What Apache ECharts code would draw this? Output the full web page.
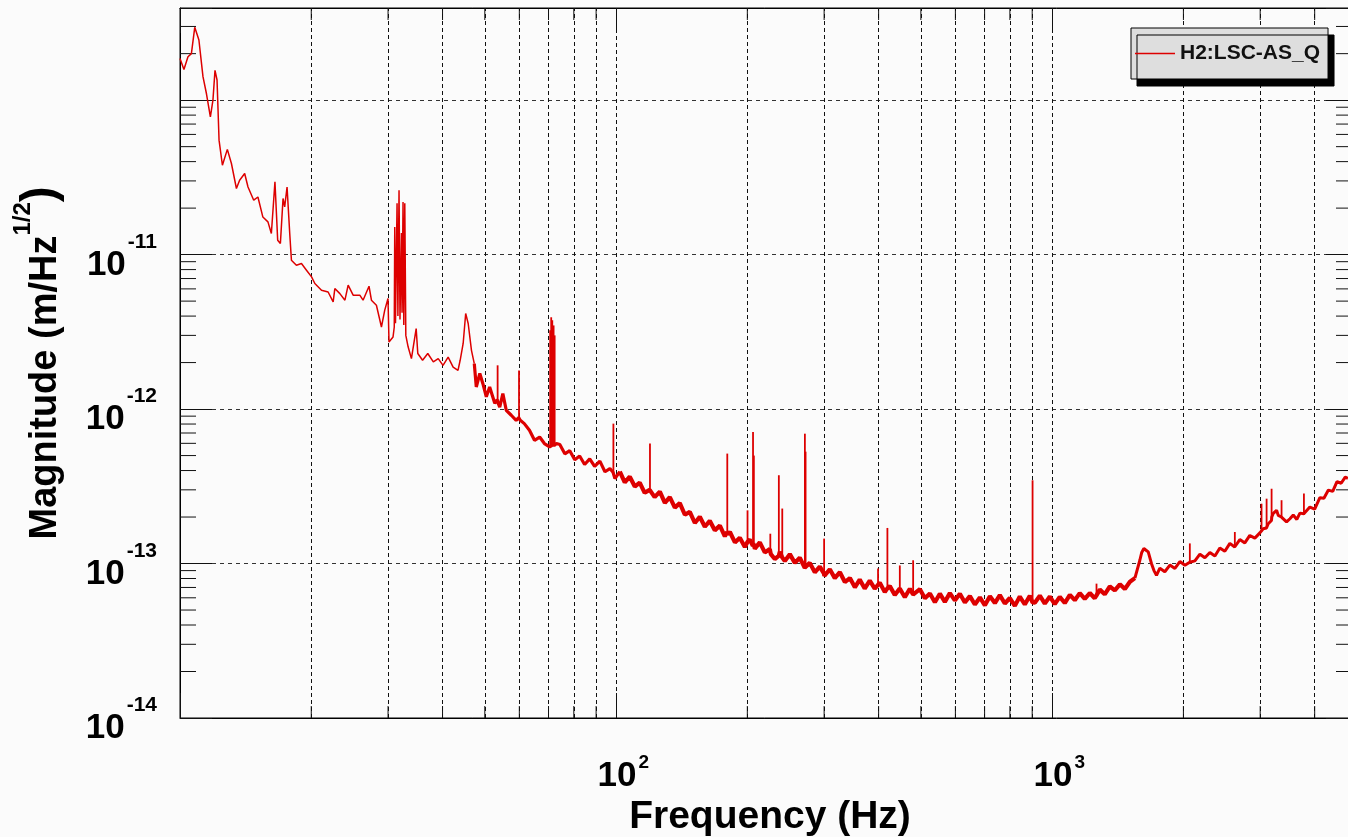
<!DOCTYPE html>
<html>
<head>
<meta charset="utf-8">
<title>H2:LSC-AS_Q amplitude spectrum</title>
<script src="https://cdn.jsdelivr.net/npm/echarts@6.0.0/dist/echarts.min.js"></script>
<style>
  html, body { margin: 0; padding: 0; background: #fbfbfb; }
  #chart { width: 1348px; height: 837px; }
</style>
</head>
<body>
<div id="chart"></div>
<script>
// broadband trace: frequency (Hz) and amplitude spectral density (m/sqrt(Hz))
const freqHz = [
  10.0, 10.21, 10.43, 10.62, 10.81, 11.05, 11.29, 11.5, 11.74, 11.9, 12.03, 12.16, 12.29, 12.51, 12.84,
  13.12, 13.47, 13.7, 14.07, 14.32, 14.76, 15.09, 15.49, 15.91, 16.2, 16.51, 16.75, 16.99, 17.23, 17.38,
  17.6, 17.85, 18.01, 18.49, 18.99, 19.5, 20.03, 20.38, 21.11, 21.86, 22.45, 22.65, 23.26, 23.89, 24.3,
  24.95, 25.84, 26.29, 27.13, 27.48, 28.21, 28.97, 29.48, 29.99, 30.15, 30.8, 31.0, 31.08, 31.2, 31.46,
  31.6, 31.79, 31.95, 32.2, 32.3, 32.47, 32.6, 32.77, 32.95, 33.35, 33.94, 34.8, 35.1, 36.0, 37.0,
  38.1, 39.1, 40.1, 41.2, 42.3, 43.4, 43.9, 44.6, 45.2, 45.8, 46.6, 47.3, 47.8, 48.7, 49.5,
  50.4, 51.3, 52.7, 53.4, 53.6, 54.1, 55.0, 56.0, 57.5, 59.0, 59.8, 60.0, 60.3, 61.6, 63.3,
  65.0, 66.8, 68.5, 70.4, 70.8, 71.2, 71.6, 72.1, 72.5, 73.0, 74.3, 76.3, 78.3, 80.4, 82.5,
  84.7, 87.0, 89.3, 91.8, 94.3, 96.8, 98.4, 98.8, 99.4, 102.0, 104.7, 107.5, 110.4, 113.3, 116.3,
  119.4, 119.8, 122.6, 126.0, 129.4, 132.8, 136.4, 140.0, 143.8, 147.6, 151.6, 155.6, 159.8, 164.0, 168.4,
  173.0, 177.6, 179.8, 180.0, 182.4, 187.3, 192.2, 197.4, 200.1, 200.4, 202.6, 205.9, 206.4, 207.3, 208.1,
  213.6, 219.3, 225.2, 226.4, 231.2, 236.0, 236.5, 237.4, 240.3, 240.8, 243.8, 250.3, 257.0, 263.8, 270.8,
  271.3, 272.3, 278.1, 285.6, 293.2, 299.8, 300.3, 301.1, 309.1, 317.4, 326.0, 334.7, 343.7, 352.9, 362.0,
  371.7, 381.7, 391.9, 402.5, 413.3, 418.8, 419.3, 424.4, 435.7, 447.2, 447.7, 459.4, 471.7, 479.8, 480.3,
  484.3, 497.4, 510.7, 524.4, 538.4, 552.7, 567.5, 582.7, 598.3, 614.3, 630.8, 647.7, 665.0, 682.8, 701.1,
  719.9, 739.1, 758.6, 778.9, 799.8, 821.2, 843, 865.6, 888.8, 901.5, 902.2, 912.6, 937, 962, 988,
  1014, 1041, 1069, 1098, 1127, 1157, 1188, 1220, 1252, 1263, 1266, 1286, 1320, 1356, 1392,
  1430, 1468, 1508, 1548, 1589, 1605, 1623, 1642, 1661, 1690, 1712, 1735, 1766, 1813, 1862,
  1912, 1963, 2016, 2068, 2071, 2125, 2182, 2240, 2300, 2362, 2424, 2489, 2556, 2622, 2627,
  2694, 2766, 2840, 2916, 2995, 3019, 3024, 3048, 3101, 3106, 3130, 3184, 3189, 3214, 3271,
  3300, 3356, 3361, 3386, 3448, 3510, 3572, 3640, 3700, 3777, 3782, 3800, 3900, 4000, 4111,
  4200, 4300, 4400, 4500, 4600, 4700, 4767
];
const asqMag = [
  1.86e-10, 1.58e-10, 1.91e-10, 2.00e-10, 2.96e-10, 2.45e-10, 1.42e-10, 1.10e-10, 7.80e-11, 1.00e-10, 1.56e-10, 1.35e-10, 5.51e-11, 3.79e-11, 4.80e-11,
  3.89e-11, 2.68e-11, 3.03e-11, 3.35e-11, 2.74e-11, 2.25e-11, 2.36e-11, 1.75e-11, 1.63e-11, 1.37e-11, 2.96e-11, 1.24e-11, 1.18e-11, 2.31e-11, 2.04e-11,
  2.74e-11, 1.37e-11, 9.2e-12, 8.53e-12, 8.75e-12, 7.93e-12, 7.18e-12, 6.50e-12, 5.88e-12, 5.73e-12, 4.94e-12, 6.03e-12, 5.59e-12, 5.07e-12, 6.34e-12,
  5.46e-12, 5.46e-12, 5.07e-12, 6.24e-12, 5.07e-12, 4.70e-12, 3.40e-12, 4.37e-12, 5.20e-12, 2.72e-12, 2.93e-12, 3.40e-12, 1.51e-11, 3.60e-12, 2.15e-11,
  4.00e-12, 2.61e-11, 3.80e-12, 1.38e-11, 4.20e-12, 2.19e-11, 3.50e-12, 2.15e-11, 3.00e-12, 2.53e-12, 2.12e-12, 3.32e-12, 2.29e-12, 2.07e-12, 2.29e-12,
  2.02e-12, 2.12e-12, 1.92e-12, 2.17e-12, 1.87e-12, 1.78e-12, 2.07e-12, 2.66e-12, 4.16e-12, 3.58e-12, 2.40e-12, 1.97e-12, 1.39e-12, 1.70e-12, 1.46e-12,
  1.20e-12, 1.39e-12, 1.09e-12, 1.15e-12, 1.10e-12, 1.03e-12, 1.26e-12, 9.82e-13, 9.12e-13, 8.46e-13, 8.8e-13, 8.6e-13, 8.46e-13, 8.05e-13, 7.29e-13,
  6.28e-13, 6.59e-13, 5.98e-13, 5.69e-13, 5.8e-13, 5.8e-13, 6.0e-13, 5.8e-13, 5.9e-13, 5.98e-13, 5.90e-13, 5.13e-13, 5.38e-13, 4.70e-13, 4.97e-13,
  4.38e-13, 4.76e-13, 4.25e-13, 4.60e-13, 3.93e-13, 4.12e-13, 3.9e-13, 3.8e-13, 3.55e-13, 3.94e-13, 3.35e-13, 3.65e-13, 3.15e-13, 3.34e-13, 2.87e-13,
  3.0e-13, 2.95e-13, 2.69e-13, 2.92e-13, 2.47e-13, 2.69e-13, 2.30e-13, 2.46e-13, 2.07e-13, 2.16e-13, 1.83e-13, 2.01e-13, 1.73e-13, 1.89e-13, 1.64e-13,
  1.76e-13, 1.50e-13, 1.6e-13, 1.55e-13, 1.60e-13, 1.37e-13, 1.47e-13, 1.28e-13, 1.38e-13, 1.35e-13, 1.43e-13, 1.3e-13, 1.35e-13, 1.3e-13, 1.25e-13,
  1.37e-13, 1.18e-13, 1.24e-13, 1.15e-13, 1.07e-13, 1.12e-13, 1.1e-13, 1.19e-13, 1.1e-13, 1.08e-13, 1.04e-13, 1.15e-13, 1.01e-13, 1.09e-13, 9.4e-14,
  9.6e-14, 9.5e-14, 1.01e-13, 8.77e-14, 9.55e-14, 8.6e-14, 8.3e-14, 8.24e-14, 9.18e-14, 8.05e-14, 8.79e-14, 7.59e-14, 8.05e-14, 7.01e-14, 7.87e-14,
  6.89e-14, 7.74e-14, 6.87e-14, 7.52e-14, 6.53e-14, 6.9e-14, 6.7e-14, 7.14e-14, 6.25e-14, 6.9e-14, 6.7e-14, 6.05e-14, 6.87e-14, 6.3e-14, 6.2e-14,
  6.14e-14, 6.82e-14, 5.96e-14, 6.40e-14, 5.62e-14, 6.38e-14, 5.65e-14, 6.43e-14, 5.77e-14, 6.38e-14, 5.60e-14, 6.15e-14, 5.43e-14, 6.03e-14, 5.36e-14,
  6.15e-14, 5.55e-14, 6.24e-14, 5.51e-14, 5.98e-14, 5.32e-14, 6.11e-14, 5.43e-14, 6.19e-14, 5.6e-14, 5.6e-14, 5.58e-14, 6.19e-14, 5.50e-14, 6.11e-14,
  5.46e-14, 6.08e-14, 5.55e-14, 6.27e-14, 5.79e-14, 6.43e-14, 5.90e-14, 6.44e-14, 5.96e-14, 6.2e-14, 6.3e-14, 6.78e-14, 6.32e-14, 7.10e-14, 6.71e-14,
  7.34e-14, 6.84e-14, 7.62e-14, 8.04e-14, 1.05e-13, 1.18e-13, 1.25e-13, 1.22e-13, 1.19e-13, 9.98e-14, 9.0e-14, 8.39e-14, 9.33e-14, 8.85e-14, 9.77e-14,
  9.29e-14, 1.03e-13, 9.75e-14, 1.02e-13, 1.05e-13, 1.04e-13, 1.15e-13, 1.09e-13, 1.18e-13, 1.12e-13, 1.26e-13, 1.20e-13, 1.35e-13, 1.28e-13, 1.29e-13,
  1.43e-13, 1.36e-13, 1.52e-13, 1.46e-13, 1.58e-13, 1.60e-13, 1.62e-13, 1.68e-13, 1.70e-13, 1.75e-13, 1.81e-13, 1.90e-13, 2.0e-13, 2.11e-13, 2.21e-13,
  2.05e-13, 2.0e-13, 1.95e-13, 1.95e-13, 1.86e-13, 1.95e-13, 2.06e-13, 1.93e-13, 2.12e-13, 2.1e-13, 2.05e-13, 2.04e-13, 2.32e-13, 2.25e-13, 2.67e-13,
  2.65e-13, 2.99e-13, 2.93e-13, 3.39e-13, 3.31e-13, 3.63e-13, 3.56e-13
];

// narrow spectral lines sitting on the noisy band: frequency, peak and foot of each line
const lineFreqHz = [53.5, 59.9, 70.6, 71.0, 71.4, 71.9, 72.3, 98.6, 119.6, 179.9, 200.2, 206.1, 207.0, 225.8, 236.2, 240.5,
  271.0, 272.0, 300.0, 398.8, 419.0, 447.4, 480.0, 901.8, 1264, 2069, 2624, 3021, 3103, 3186, 3358, 3779];
const linePeak = [1.92e-12, 1.78e-12, 3.24e-12, 3.93e-12, 3.76e-12, 3.48e-12, 3.00e-12, 8.05e-13, 5.98e-13, 5.15e-13, 2.21e-13, 7.11e-13, 5.0e-13, 1.56e-13, 3.73e-13, 2.27e-13,
  6.93e-13, 5.3e-13, 1.45e-13, 9.27e-14, 1.70e-13, 9.72e-14, 1.05e-13, 3.46e-13, 7.41e-14, 1.35e-13, 1.60e-13, 2.44e-13, 2.63e-13, 3.05e-13, 2.57e-13, 2.84e-13];
const lineBase = [1.12e-12, 8.7e-13, 5.8e-13, 5.8e-13, 5.8e-13, 5.9e-13, 5.9e-13, 3.85e-13, 2.97e-13, 1.57e-13, 1.36e-13, 1.32e-13, 1.3e-13, 1.2e-13, 1.11e-13, 1.09e-13,
  9.5e-14, 9.5e-14, 8.4e-14, 7.2e-14, 6.8e-14, 6.8e-14, 6.2e-14, 5.6e-14, 6.25e-14, 1.03e-13, 1.29e-13, 1.61e-13, 1.72e-13, 1.95e-13, 1.97e-13, 2.07e-13];

const seriesName = 'H2:LSC-AS_Q';
const xMin = 10, xMax = 4820;
const yMin = 1e-14, yMax = 3.95e-10;
const FONT = '"Liberation Sans", Arial, sans-serif';
const RED = '#dd0000';

// 2..9 x 10^n minor ticks, as ROOT draws them on log axes
const xMinorTicks = [];
for (let e = 1; e <= 3; e++) for (let k = 2; k <= 9; k++) if (k * 10 ** e < xMax) xMinorTicks.push(k * 10 ** e);
const yMinorTicks = [];
for (let e = -14; e <= -10; e++) for (let k = 2; k <= 9; k++) if (k * 10 ** e < yMax) yMinorTicks.push(+(k * 10 ** e).toPrecision(3));

const spectrum = freqHz.map((f, i) => [f, asqMag[i]]);
const lines = lineFreqHz.map((f, i) => [f, linePeak[i], lineBase[i]]);

// stroke width of the trace by frequency range: thin below ~47 Hz, a wide noisy band above
const tracePieces = [
  { from: 0, to: 47.3, width: 1.5 },
  { from: 47.3, to: 102, width: 3.2 },
  { from: 102, to: 1548, width: 4.2 },
  { from: 1548, to: 1e5, width: 3.0 }
];

const tickMarks = [];
yMinorTicks.forEach(v => { tickMarks.push([xMin, v, 0]); tickMarks.push([xMax, v, 1]); });
xMinorTicks.forEach(v => { tickMarks.push([v, yMin, 2]); tickMarks.push([v, yMax, 3]); });

const isPow10 = v => Math.abs(Math.log10(v) - Math.round(Math.log10(v))) < 1e-6;

function powRich(lineH, supSize) {
  return {
    h: { fontSize: 1, lineHeight: lineH },
    b: { fontFamily: FONT, fontSize: 35, fontWeight: 'bold', color: '#000', lineHeight: 38, verticalAlign: 'bottom' },
    s: { fontFamily: FONT, fontSize: supSize, fontWeight: 'bold', color: '#000', padding: [5, 0, 0, 2], verticalAlign: 'top' }
  };
}

var chart = echarts.init(document.getElementById('chart'));

const traceSeries = tracePieces.map(p => ({
  name: seriesName,
  type: 'line',
  data: spectrum.filter(d => d[0] >= p.from && d[0] <= p.to),
  symbol: 'none', showSymbol: false,
  color: RED,
  lineStyle: { color: RED, width: p.width, join: 'bevel' },
  silent: true, z: 3
}));

const option = {
  backgroundColor: '#fbfbfb',
  animation: false,
  textStyle: { fontFamily: FONT },
  grid: {
    left: 180, top: 8, right: -2, bottom: 119,
    show: true, borderColor: '#000', borderWidth: 1, backgroundColor: 'transparent',
    outerBoundsMode: 'none', containLabel: false
  },
  legend: {
    data: [seriesName],
    left: 1131, top: 28,
    icon: 'rect', itemWidth: 40, itemHeight: 1.5,
    padding: [15, 8, 15, 4],
    backgroundColor: '#dedede', borderColor: '#000', borderWidth: 1,
    shadowColor: '#000', shadowBlur: 0, shadowOffsetX: 6, shadowOffsetY: 7,
    selectedMode: false,
    textStyle: { fontFamily: FONT, fontSize: 21, fontWeight: 'bold', color: '#111' }
  },
  xAxis: [{
    type: 'log', min: xMin, max: xMax,
    axisLine: { show: true, lineStyle: { color: '#000', width: 1 } },
    axisTick: { inside: true, length: 25, lineStyle: { color: '#111' } },
    splitLine: { show: true, lineStyle: { type: [4, 3], color: '#111', width: 1 } },
    axisLabel: {
      margin: 30, padding: [0, 0, 0, 14],
      formatter: v => (isPow10(v) && Math.round(Math.log10(v)) > 1) ? '{h| }{b|10}{s|' + Math.round(Math.log10(v)) + '}' : '',
      rich: powRich(46, 19)
    },
    name: 'Frequency (Hz)', nameLocation: 'middle', nameGap: 79, nameMoveOverlap: false,
    nameTextStyle: { fontFamily: FONT, fontSize: 39, fontWeight: 'bold', color: '#000', lineHeight: 40, padding: [0, 0, 0, 10] }
  }, {
    type: 'log', min: xMin, max: xMax, position: 'top',
    axisLine: { show: true, lineStyle: { color: '#000' } },
    axisTick: { inside: true, length: 25, lineStyle: { color: '#111' } },
    axisLabel: { show: false }, splitLine: { show: false }
  }],
  yAxis: [{
    type: 'log', min: yMin, max: yMax,
    axisLine: { show: true, lineStyle: { color: '#000', width: 1 } },
    axisTick: { inside: true, length: 32, lineStyle: { color: '#111' } },
    splitLine: { show: true, lineStyle: { type: [4, 4], color: '#333', width: 1 } },
    axisLabel: {
      margin: 23,
      formatter: v => (isPow10(v) && Math.round(Math.log10(v)) < -10) ? '{h| }{b|10}{s|' + Math.round(Math.log10(v)) + '}' : '',
      rich: powRich(56, 21)
    },
    name: '{h| }{b|Magnitude (m/Hz}{s|1/2}{p|)}',
    nameLocation: 'middle', nameRotate: 90, nameGap: 115, nameMoveOverlap: false,
    nameTextStyle: {
      rich: {
        h: { fontSize: 1, lineHeight: 56 },
        b: { fontFamily: FONT, fontSize: 38, fontWeight: 'bold', color: '#000', lineHeight: 40, verticalAlign: 'bottom' },
        s: { fontFamily: FONT, fontSize: 24, fontWeight: 'bold', color: '#000', padding: [2, 0, 0, 0], verticalAlign: 'top' },
        p: { fontFamily: FONT, fontSize: 48, fontWeight: 'bold', color: '#000', lineHeight: 56, verticalAlign: 'bottom' }
      }
    }
  }, {
    type: 'log', min: yMin, max: yMax, position: 'right',
    axisLine: { show: true, lineStyle: { color: '#000' } },
    axisTick: { inside: true, length: 24, lineStyle: { color: '#111' } },
    axisLabel: { show: false }, splitLine: { show: false }
  }],
  series: [
    {
      name: 'ticks',
      type: 'custom',
      xAxisIndex: 0, yAxisIndex: 0,
      silent: true, z: 2,
      data: tickMarks,
      encode: { x: 0, y: 1 },
      renderItem: function (params, api) {
        const p = api.coord([api.value(0), api.value(1)]);
        const dir = api.value(2);
        let x2 = p[0], y2 = p[1];
        if (dir === 0) x2 += 16;
        else if (dir === 1) x2 -= 14;
        else if (dir === 2) y2 -= 12;
        else y2 += 12;
        return { type: 'line', shape: { x1: p[0], y1: p[1], x2: x2, y2: y2 }, style: { stroke: '#111', lineWidth: 1 } };
      },
      markLine: {
        silent: true, z: 1, symbol: ['none', 'none'],
        label: { show: false },
        lineStyle: { type: [4, 3], color: '#111', width: 1 },
        emphasis: { disabled: true },
        data: xMinorTicks.map(v => ({ xAxis: v }))
      }
    },
    ...traceSeries,
    {
      name: 'lines',
      type: 'custom',
      silent: true, z: 4,
      data: lines,
      encode: { x: 0, y: [1, 2] },
      renderItem: function (params, api) {
        const top = api.coord([api.value(0), api.value(1)]);
        const foot = api.coord([api.value(0), api.value(2)]);
        return { type: 'line', shape: { x1: top[0], y1: top[1], x2: foot[0], y2: foot[1] }, style: { stroke: RED, lineWidth: 1.8 } };
      }
    }
  ]
};

chart.setOption(option);
window.addEventListener('resize', function () { chart.resize(); });
</script>
</body>
</html>
